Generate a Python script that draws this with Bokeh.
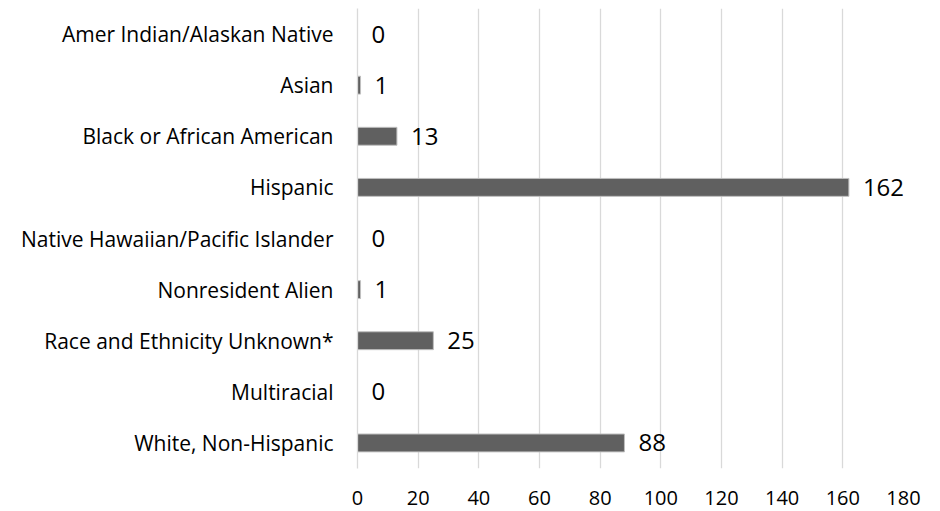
from bokeh.plotting import figure
from bokeh.models import Range1d, FixedTicker, ColumnDataSource
from bokeh.core.properties import value
from bokeh.embed import file_html
from bokeh.resources import INLINE

categories = ["Amer Indian/Alaskan Native", "Asian", "Black or African American",
              "Hispanic", "Native Hawaiian/Pacific Islander", "Nonresident Alien",
              "Race and Ethnicity Unknown*", "Multiracial", "White, Non-Hispanic"]
counts = [0, 1, 13, 162, 0, 1, 25, 0, 88]
x_ticks = [0, 20, 40, 60, 80, 100, 120, 140, 160, 180]

FONT = "Open Sans"
src = ColumnDataSource(dict(cat=categories, val=counts, lab=[str(v) for v in counts]))

p = figure(width=928, height=511, y_range=list(reversed(categories)),
           x_range=Range1d(0, 180), output_backend="svg", toolbar_location=None,
           min_border_left=357, min_border_right=25, min_border_top=8, min_border_bottom=43)
p.y_range.range_padding = 0
p.outline_line_color = None

p.hbar(y="cat", right="val", left=0, height=0.35, source=src,
       fill_color="#606060", line_color="#bfbfbf", line_width=1)
p.text(x="val", y="cat", text="lab", source=src, x_offset=14,
       text_baseline="middle", text_align="left",
       text_font=value(FONT), text_font_size="24px", text_color="#000000")

p.xaxis.ticker = FixedTicker(ticks=x_ticks)
p.xaxis.axis_line_color = None
p.xaxis.major_tick_line_color = None
p.xaxis.minor_tick_line_color = None
p.xaxis.major_label_text_font = FONT
p.xaxis.major_label_text_font_size = "20px"
p.xaxis.major_label_text_color = "#000000"
p.xaxis.major_label_standoff = 16

p.yaxis.axis_line_color = "#d9d9d9"
p.yaxis.axis_line_width = 1.3
p.yaxis.major_tick_line_color = None
p.yaxis.minor_tick_line_color = None
p.yaxis.major_label_text_font = FONT
p.yaxis.major_label_text_font_size = "21px"
p.yaxis.major_label_text_color = "#000000"
p.yaxis.major_label_standoff = 18

p.ygrid.grid_line_color = None
p.xgrid.grid_line_color = "#d9d9d9"
p.xgrid.grid_line_width = 1.3

open("out.html", "w").write(file_html(p, INLINE))
